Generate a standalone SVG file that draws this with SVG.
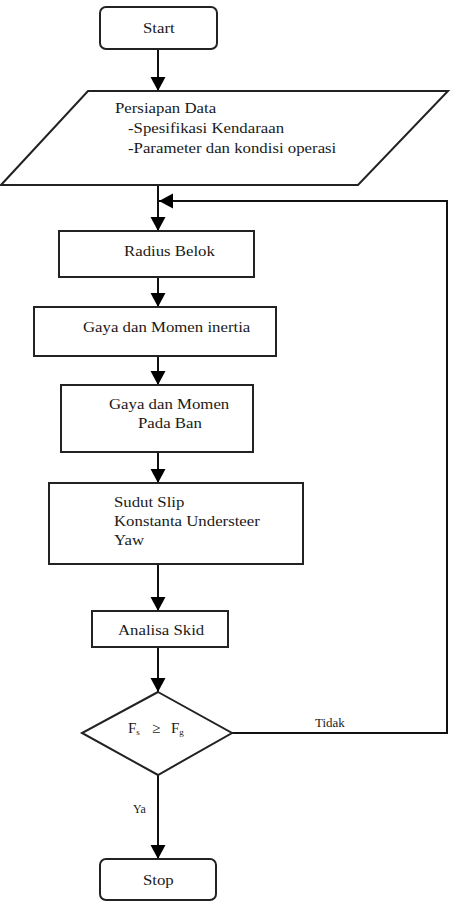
<svg xmlns="http://www.w3.org/2000/svg" width="460" height="903" viewBox="0 0 460 903">
<defs>
<marker id="ah" markerWidth="16" markerHeight="16" refX="14" refY="7.5" orient="auto" markerUnits="userSpaceOnUse">
<path d="M0,0 L14,7.5 L0,15 Z" fill="#000"/>
</marker>
<style>
.s{fill:#fff;stroke:#222;stroke-width:2}
.c{fill:none;stroke:#111;stroke-width:2}
text{font-family:'Liberation Serif', serif;font-size:15px;fill:#1a1a1a}
.sm{font-size:12px}
.sub{font-size:9px}
</style>
</defs>
<rect width="460" height="903" fill="#fff"/>
<g font-family="'Liberation Serif', serif">
<g id="connectors">
<path class="c" d="M158,49 V91" marker-end="url(#ah)"/>
<path class="c" d="M158,185 V231" marker-end="url(#ah)"/>
<path class="c" d="M158,277 V307" marker-end="url(#ah)"/>
<path class="c" d="M158,356 V385" marker-end="url(#ah)"/>
<path class="c" d="M158,452 V483" marker-end="url(#ah)"/>
<path class="c" d="M158,564 V611" marker-end="url(#ah)"/>
<path class="c" d="M158,647 V692" marker-end="url(#ah)"/>
<path class="c" d="M158,775 V859" marker-end="url(#ah)"/>
<path class="c" d="M232,733 H447 V201 H159" marker-end="url(#ah)"/>
<text class="sm" x="315" y="727" transform="translate(315,0) scale(1.08,1) translate(-315,0)">Tidak</text>
<text class="sm" x="133" y="813">Ya</text>
</g>
<g id="start">
<rect class="s" x="100" y="7" width="117" height="42" rx="6"/>
<text x="143" y="33" transform="translate(143,0) scale(1.12,1) translate(-143,0)">Start</text>
</g>
<g id="persiapan">
<polygon class="s" points="88,91 448,91 358,185 1,185"/>
<g transform="translate(115,0) scale(1.12,1) translate(-115,0)">
<text x="115" y="113">Persiapan Data</text>
<text x="126.6" y="133">-Spesifikasi Kendaraan</text>
<text x="126.6" y="153">-Parameter dan kondisi operasi</text>
</g>
</g>
<g id="radius">
<rect class="s" x="59" y="231" width="195" height="46"/>
<text x="124" y="256" transform="translate(124,0) scale(1.12,1) translate(-124,0)">Radius Belok</text>
</g>
<g id="gaya-inertia">
<rect class="s" x="34" y="307" width="242" height="49"/>
<text x="83" y="332" transform="translate(83,0) scale(1.12,1) translate(-83,0)">Gaya dan Momen inertia</text>
</g>
<g id="gaya-ban">
<rect class="s" x="61" y="385" width="192" height="67"/>
<text x="109" y="409" transform="translate(109,0) scale(1.12,1) translate(-109,0)">Gaya dan Momen</text>
<text x="138" y="428" transform="translate(138,0) scale(1.12,1) translate(-138,0)">Pada Ban</text>
</g>
<g id="sudut">
<rect class="s" x="49" y="483" width="254" height="81"/>
<g transform="translate(114,0) scale(1.12,1) translate(-114,0)">
<text x="114" y="507">Sudut Slip</text>
<text x="114" y="526">Konstanta Understeer</text>
<text x="114" y="545">Yaw</text>
</g>
</g>
<g id="analisa">
<rect class="s" x="92" y="611" width="136" height="36"/>
<text x="118" y="635" transform="translate(118,0) scale(1.12,1) translate(-118,0)">Analisa Skid</text>
</g>
<g id="decision">
<polygon class="s" points="158,692 232,733 158,775 82,733"/>
<text x="128" y="733">F<tspan class="sub" dy="2">s</tspan><tspan dy="-2" x="152">≥</tspan><tspan x="171">F</tspan><tspan class="sub" dy="2">g</tspan></text>
</g>
<g id="stop">
<rect class="s" x="100" y="859" width="116" height="41" rx="6"/>
<text x="143" y="885" transform="translate(143,0) scale(1.12,1) translate(-143,0)">Stop</text>
</g>
</g>
</svg>
